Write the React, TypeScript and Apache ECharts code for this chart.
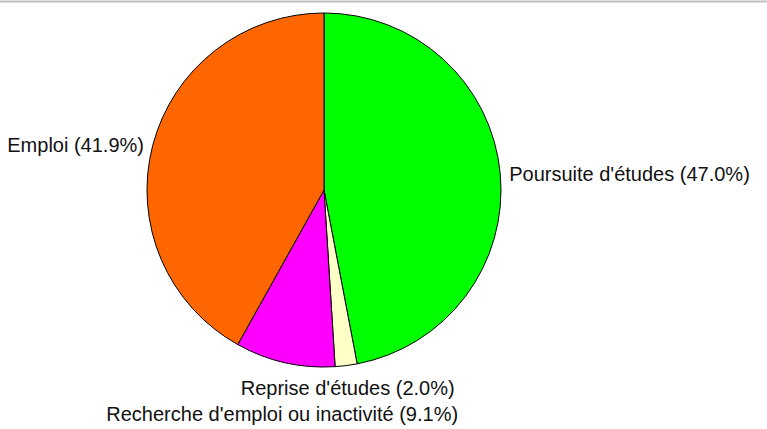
import React, { useEffect, useRef } from "react";
import * as echarts from "echarts";

const categories = [
  "Poursuite d'études",
  "Reprise d'études",
  "Recherche d'emploi ou inactivité",
  "Emploi",
];
const values = [47.0, 2.0, 9.1, 41.9];
const colors = ["#00ff00", "#ffffc8", "#ff00ff", "#ff6600"];

const CX = 324;
const CY = 190;
const R = 177;
const GAP = 9;
const GAP_BOTTOM = 12;
const SIDE_DY = 2;
const LINE = 26;

export default function App() {
  const ref = useRef<HTMLDivElement>(null);
  useEffect(() => {
    if (!ref.current) return;
    const chart = echarts.init(ref.current, null, { renderer: "svg" });
    const total = values.reduce((a, b) => a + b, 0);
    const pos: any[] = [];
    let acc = 0;
    let lastBottomY = -Infinity;
    values.forEach((v) => {
      const a = ((acc + v / 2) / total) * Math.PI * 2;
      acc += v;
      const dx = Math.sin(a);
      const dy = -Math.cos(a);
      let x = CX + (R + GAP) * dx;
      let y = CY + (R + GAP) * dy;
      let align = "center";
      let verticalAlign = "middle";
      if (Math.abs(dx) > 0.5) {
        align = dx > 0 ? "left" : "right";
        y += SIDE_DY;
      } else if (dy > 0) {
        verticalAlign = "top";
        x = CX + (R + GAP_BOTTOM) * dx;
        y = CY + (R + GAP_BOTTOM) * dy;
        if (y < lastBottomY + LINE) y = lastBottomY + LINE;
        lastBottomY = y;
      } else {
        verticalAlign = "bottom";
      }
      pos.push({ x, y, align, verticalAlign });
    });
    chart.setOption({
      animation: false,
      backgroundColor: "#ffffff",
      graphic: [
        {
          type: "line",
          shape: { x1: 0, y1: 1.5, x2: 767, y2: 1.5 },
          style: { stroke: "#c0c0c0", lineWidth: 2 },
        },
      ],
      series: [
        {
          type: "pie",
          center: [CX, CY],
          radius: [0, R],
          startAngle: 90,
          clockwise: true,
          data: categories.map((name, i) => ({
            name,
            value: values[i],
            itemStyle: { color: colors[i] },
          })),
          itemStyle: { borderColor: "#000000", borderWidth: 1 },
          emphasis: { disabled: true },
          label: {
            show: true,
            position: "outside",
            formatter: (p: any) => `${p.name} (${p.value.toFixed(1)}%)`,
            color: "#111111",
            fontFamily: "Liberation Sans",
            fontSize: 20,
            overflow: "none",
            width: 500,
          },
          labelLine: { show: false },
          labelLayout: (p: any) => pos[p.dataIndex],
        },
      ],
    });
    return () => chart.dispose();
  }, []);
  return (
    <div
      ref={ref}
      style={{ position: "fixed", left: 0, top: 0, width: 767, height: 429 }}
    />
  );
}
